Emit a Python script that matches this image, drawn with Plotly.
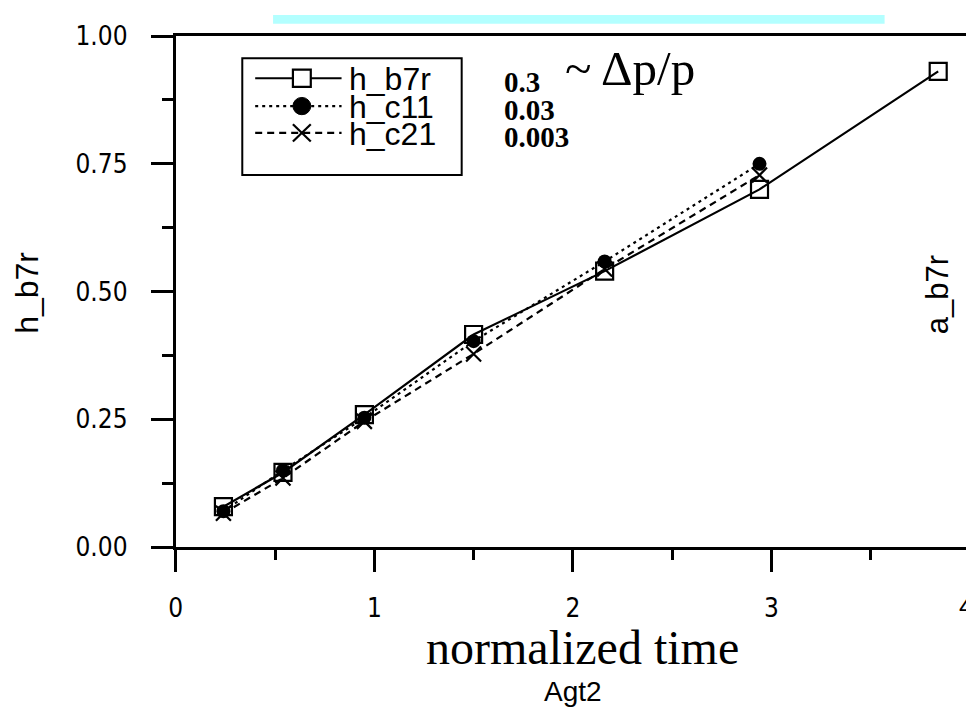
import plotly.graph_objects as go

# ---------------- data ----------------
time_b7r = [0.24, 0.54, 0.95, 1.50, 2.16, 2.94, 3.84]
h_b7r = [0.079, 0.146, 0.259, 0.416, 0.540, 0.700, 0.931]

time_c = [0.24, 0.54, 0.95, 1.50, 2.16, 2.94]
h_c11 = [0.070, 0.150, 0.253, 0.403, 0.559, 0.750]
h_c21 = [0.066, 0.135, 0.246, 0.378, 0.544, 0.728]

series_names = ["h_b7r", "h_c11", "h_c21"]
series_dp = ["0.3", "0.03", "0.003"]
x_tick_vals = [0, 1, 2, 3]
x_edge_tick = 4
y_tick_vals = [0, 0.25, 0.5, 0.75, 1.0]
y_tick_text = ["0.00", "0.25", "0.50", "0.75", "1.00"]

# ---------------- style ----------------
W, H = 966, 726
SANS = "Liberation Sans, Arial, sans-serif"
NARROW = "Liberation Sans Narrow, Arial Narrow, DejaVu Sans Condensed, Liberation Sans, sans-serif"
SERIF = "Liberation Serif, Times New Roman, serif"
styles = [
    dict(symbol="square-open", size=17, dash="solid", mline=2.2),
    dict(symbol="circle", size=14, dash="3px,4px", mline=0),
    dict(symbol="x-thin-open", size=15, dash="7px,5px", mline=2.2),
]
PLOT_L, PLOT_T, PLOT_B = 170, 22, 555
PX_PER_X = 200.0


def px(x):
    return x / W


def py(y):
    return 1 - y / H


fig = go.Figure()

data = [(time_b7r, h_b7r), (time_c, h_c11), (time_c, h_c21)]
for (xs, ys), name, st in zip(data, series_names, styles):
    fig.add_trace(go.Scatter(
        x=xs, y=ys, mode="lines+markers", name=name,
        line=dict(color="black", width=2.2, dash=st["dash"]),
        marker=dict(symbol=st["symbol"], size=st["size"], color="black",
                    line=dict(color="black", width=st["mline"])),
        cliponaxis=False, showlegend=False,
    ))

# ---------------- manual legend drawn with layout shapes ----------------
LEG_X0, LEG_X1, LEG_Y0, LEG_Y1 = 237, 458, 45, 167
row_y = [66, 95, 123]
KEY_X0, KEY_X1, KEY_XM = 250, 337, 297

shapes = [
    dict(type="rect", xref="paper", yref="paper", x0=px(268), x1=px(884), y0=py(0), y1=py(9),
         fillcolor="#b3ffff", line=dict(width=0), layer="below"),
    dict(type="rect", xref="paper", yref="paper", x0=px(LEG_X0), x1=px(LEG_X1), y0=py(LEG_Y0), y1=py(LEG_Y1),
         fillcolor="white", line=dict(color="black", width=2)),
]
for ry, st in zip(row_y, styles):
    shapes.append(dict(type="line", xref="paper", yref="paper", x0=px(KEY_X0), x1=px(KEY_X1),
                       y0=py(ry), y1=py(ry), line=dict(color="black", width=2.2, dash=st["dash"])))
    r = 9
    if st["symbol"] == "square-open":
        shapes.append(dict(type="rect", xref="paper", yref="paper", x0=px(KEY_XM - r), x1=px(KEY_XM + r),
                           y0=py(ry - r), y1=py(ry + r), fillcolor="white",
                           line=dict(color="black", width=2.2)))
    elif st["symbol"] == "circle":
        shapes.append(dict(type="circle", xref="paper", yref="paper", x0=px(KEY_XM - r), x1=px(KEY_XM + r),
                           y0=py(ry - r), y1=py(ry + r), fillcolor="black",
                           line=dict(color="black", width=1)))
    else:
        for s in (1, -1):
            shapes.append(dict(type="line", xref="paper", yref="paper", x0=px(KEY_XM - r), x1=px(KEY_XM + r),
                               y0=py(ry - s * r), y1=py(ry + s * r), line=dict(color="black", width=2.2)))

annotations = []
for ry, name, dp in zip(row_y, series_names, series_dp):
    annotations.append(dict(xref="paper", yref="paper", x=px(342), y=py(ry + 1), text=name,
                            showarrow=False, xanchor="left", yanchor="middle",
                            font=dict(family=SANS, size=32, color="black")))
    annotations.append(dict(xref="paper", yref="paper", x=px(499), y=py(ry + 4), text="<b>" + dp + "</b>",
                            showarrow=False, xanchor="left", yanchor="middle",
                            font=dict(family=SERIF, size=29, color="black")))
annotations += [
    dict(xref="paper", yref="paper", x=px(560), y=py(56), text="~ Δp/p", showarrow=False,
         xanchor="left", yanchor="middle", font=dict(family=SERIF, size=49, color="black")),
    dict(xref="paper", yref="paper", x=px(580), y=py(660), text="normalized time", showarrow=False,
         xanchor="center", yanchor="middle", font=dict(family=SERIF, size=48, color="black")),
    dict(xref="paper", yref="paper", x=px(570), y=py(706), text="Agt2", showarrow=False,
         xanchor="center", yanchor="middle", font=dict(family=SANS, size=28, color="black")),
    dict(xref="paper", yref="paper", x=px(20), y=py(290), text="h_b7r", showarrow=False, textangle=-90,
         xanchor="center", yanchor="middle", font=dict(family=SANS, size=32, color="black")),
    dict(xref="paper", yref="paper", x=px(938), y=py(292), text="a_b7r", showarrow=False, textangle=-90,
         xanchor="center", yanchor="middle", font=dict(family=SANS, size=31, color="black")),
    # tick label "4" sits at the page edge (beyond the visible axis range), partly cut off
    dict(xref="paper", yref="paper", x=px(PLOT_L + x_edge_tick * PX_PER_X), y=py(616), text=str(x_edge_tick),
         showarrow=False, xshift=-4,
         xanchor="center", yanchor="middle", font=dict(family=SANS, size=26, color="black")),
]

x_range_max = (W - PLOT_L) / PX_PER_X

fig.update_layout(
    width=W, height=H,
    margin=dict(l=0, r=0, t=0, b=0),
    paper_bgcolor="white", plot_bgcolor="white",
    showlegend=False,
    shapes=shapes, annotations=annotations,
    xaxis=dict(domain=[PLOT_L / W, 1], range=[0, x_range_max], tickvals=x_tick_vals,
               showgrid=False, zeroline=False, showline=True, linecolor="black", linewidth=3,
               mirror=True, ticks="outside", ticklen=22, tickwidth=2.5, tickcolor="black",
               ticklabelstandoff=14,
               minor=dict(dtick=0.5, tick0=0, ticks="outside", ticklen=10, tickwidth=2.5, tickcolor="black"),
               tickfont=dict(family=NARROW, size=26, color="black")),
    yaxis=dict(domain=[1 - PLOT_B / H, 1 - PLOT_T / H], range=[0, 1], tickvals=y_tick_vals,
               ticktext=y_tick_text,
               showgrid=False, zeroline=False, showline=True, linecolor="black", linewidth=3,
               ticks="outside", ticklen=22, tickwidth=2.5, tickcolor="black",
               ticklabelstandoff=18,
               minor=dict(dtick=0.125, tick0=0, ticks="outside", ticklen=11, tickwidth=2.5, tickcolor="black"),
               tickfont=dict(family=NARROW, size=26, color="black")),
)

fig.write_html("out.html",
               config={"displayModeBar": False},
               post_script="document.body.style.margin='0';document.body.style.overflow='hidden';")
